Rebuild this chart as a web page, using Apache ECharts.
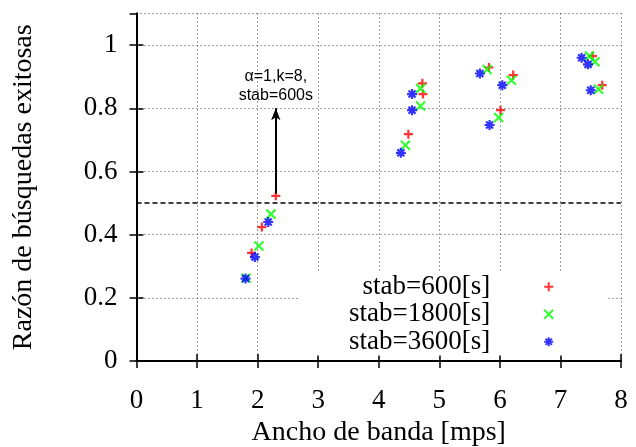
<!DOCTYPE html>
<html><head><meta charset="utf-8">
<script src="https://cdn.jsdelivr.net/npm/echarts@6/dist/echarts.min.js"></script>
<style>html,body{margin:0;padding:0;background:#fff}#c{width:636px;height:447px}</style>
</head><body><div id="c"></div>
<script>
const seriesNames = ['stab=600[s]', 'stab=1800[s]', 'stab=3600[s]'];
const stab600 = [[1.90,0.342],[2.07,0.424],[2.30,0.523],[4.49,0.718],[4.72,0.879],[4.73,0.845],[5.82,0.929],[6.22,0.905],[6.01,0.794],[7.53,0.965],[7.69,0.873]];
const stab1800 = [[1.81,0.262],[2.02,0.364],[2.22,0.465],[4.44,0.683],[4.69,0.807],[4.69,0.863],[5.79,0.923],[6.19,0.889],[5.98,0.771],[7.48,0.965],[7.57,0.947],[7.63,0.860]];
const stab3600 = [[1.80,0.261],[1.955,0.329],[2.175,0.440],[4.365,0.659],[4.55,0.794],[4.55,0.845],[5.67,0.910],[6.04,0.873],[5.83,0.747],[7.35,0.960],[7.455,0.939],[7.50,0.857]];
const threshold = 0.5;
const arrowFrom = [2.30, 0.530];
const arrowTo = [2.30, 0.800];
const noteText = 'α=1,k=8,\nstab=600s';
const notePos = [2.30, 0.870];
const xTitle = 'Ancho de banda [mps]';
const yTitle = 'Razón de búsquedas exitosas';

const serif = '"Liberation Serif","Times New Roman",serif';
const sans = '"Liberation Sans",Arial,sans-serif';
const symPlus = 'path://M0,5L10,5M5,0L5,10';
const symCross = 'path://M0,0L10,10M0,10L10,0';
const symStar = 'path://M0,5L10,5M5,0L5,10M1.5,1.5L8.5,8.5M1.5,8.5L8.5,1.5';

const chart = echarts.init(document.getElementById('c'), null, {renderer: 'canvas'});
const axisLine = {show: true, lineStyle: {color: '#000', width: 2}};
const tick = {show: true, inside: true, length: 7, lineStyle: {color: '#000', width: 1.5}};
const grid = {show: true, lineStyle: {color: '#444', width: 1, type: [1, 3]}};

function sc(name, data, symbol, color, size) {
  return {
    name: name, type: 'scatter', data: data, symbol: symbol, symbolSize: size,
    itemStyle: {color: 'rgba(0,0,0,0)', borderColor: color, borderWidth: 2.2},
    emphasis: {disabled: true}, animation: false
  };
}

const s600 = sc(seriesNames[0], stab600, symPlus, '#ff0000', 9);
s600.markLine = {
  silent: true, animation: false, symbol: 'none', label: {show: false},
  data: [
    [{coord: arrowFrom, symbol: 'none'}, {coord: arrowTo, symbol: 'arrow', symbolSize: [7, 12]}],
    {yAxis: threshold, lineStyle: {type: [5, 3], width: 1.5, color: '#000'}}
  ],
  lineStyle: {color: '#000', width: 2, type: 'solid'}
};
s600.markPoint = {
  silent: true, animation: false, symbol: 'circle', symbolSize: 0,
  data: [{coord: notePos}],
  label: {show: true, formatter: noteText, position: 'inside', fontFamily: sans, fontSize: 16, color: '#000', lineHeight: 19, align: 'center', verticalAlign: 'middle'}
};

chart.setOption({
  animation: false,
  backgroundColor: '#fff',
  grid: {left: 136.5, right: 15, top: 13.5, bottom: 86, containLabel: false, outerBoundsMode: 'none'},
  xAxis: [
    {type: 'value', min: 0, max: 8, interval: 1, position: 'bottom',
     name: xTitle, nameLocation: 'middle', nameGap: 53,
     nameTextStyle: {fontFamily: serif, fontSize: 28, color: '#000'},
     axisLine: axisLine, axisTick: tick, splitLine: grid,
     axisLabel: {fontFamily: serif, fontSize: 27, color: '#000', margin: 26}},
    {type: 'value', min: 0, max: 8, interval: 1, position: 'top',
     axisLine: axisLine, axisTick: tick, splitLine: {show: false}, axisLabel: {show: false}}
  ],
  yAxis: [
    {type: 'value', min: 0, max: 1.1, interval: 0.2, position: 'left',
     name: yTitle, nameLocation: 'middle', nameGap: 99,
     nameTextStyle: {fontFamily: serif, fontSize: 28, color: '#000'},
     axisLine: axisLine, axisTick: tick, splitLine: grid,
     axisLabel: {fontFamily: serif, fontSize: 27, color: '#000', margin: 19, showMaxLabel: false}},
    {type: 'value', min: 0, max: 1.1, interval: 0.2, position: 'right',
     axisLine: axisLine, axisTick: tick, splitLine: {show: false}, axisLabel: {show: false}}
  ],
  legend: {
    orient: 'vertical', left: 300, top: 271, align: 'right',
    backgroundColor: '#fff', padding: [2, 54, 0, 49],
    itemWidth: 9, itemHeight: 9, itemGap: 0,
    selectedMode: false,
    textStyle: {fontFamily: serif, fontSize: 27, color: '#000', lineHeight: 27.5, padding: [0, 49, 0, 0]},
    data: seriesNames
  },
  series: [
    s600,
    sc(seriesNames[1], stab1800, symCross, '#00ff00', 9),
    sc(seriesNames[2], stab3600, symStar, '#0000ff', 10)
  ]
});
</script></body></html>
